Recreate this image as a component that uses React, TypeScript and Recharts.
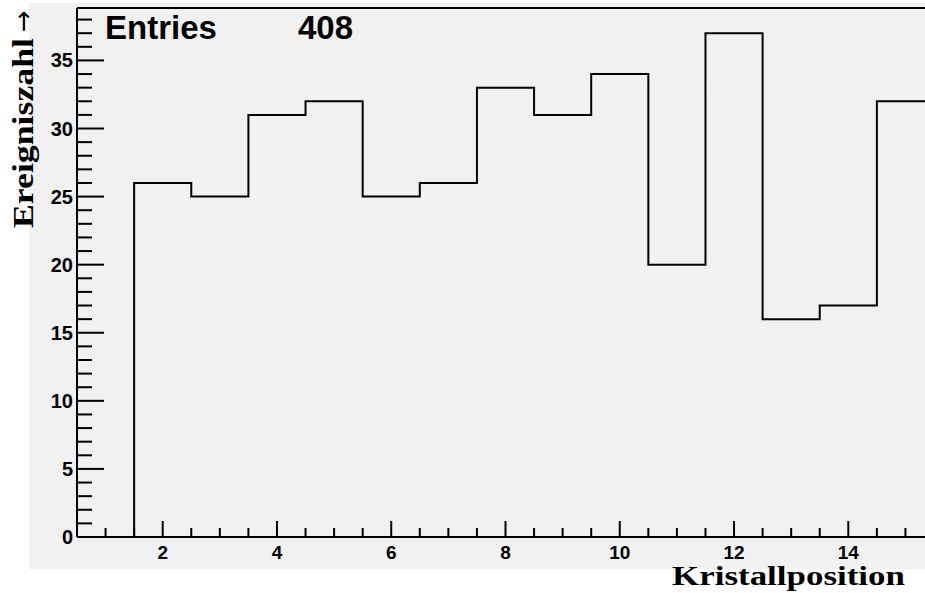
import React from 'react';
import { ComposedChart, Line, XAxis, YAxis, ReferenceLine } from 'recharts';

// bin centres of the crystal histogram and their counts
const binCenters = [1, 2, 3, 4, 5, 6, 7, 8, 9, 10, 11, 12, 13, 14, 15];
const counts = [0, 26, 25, 31, 32, 25, 26, 33, 31, 34, 20, 37, 16, 17, 32];
const entries = 408;

const xMajorTicks = [2, 4, 6, 8, 10, 12, 14];
const xTicks = [1, 1.5, 2, 2.5, 3, 3.5, 4, 4.5, 5, 5.5, 6, 6.5, 7, 7.5, 8, 8.5, 9, 9.5, 10, 10.5, 11, 11.5, 12, 12.5, 13, 13.5, 14, 14.5, 15, 15.5];
const yMajorTicks = [0, 5, 10, 15, 20, 25, 30, 35];
const yTicks = Array.from({ length: 39 }, (_, i) => i);

const binWidth = 1;
const xMin = binCenters[0] - binWidth / 2;
const xMax = binCenters[binCenters.length - 1] + binWidth / 2;
const yMax = Math.max(...counts) * 1.05;

// step outline: one point per lower bin edge, plus the closing edge
const stepData = [
  ...binCenters.map((c, i) => ({ x: c - binWidth / 2, y: counts[i] })),
  { x: xMax, y: counts[counts.length - 1] },
];

const tickFont = '"Liberation Sans", Arial, sans-serif';
const titleFont = '"Liberation Serif", "DejaVu Serif", serif';

const XTick = (props: any) => {
  const { x, y, payload } = props;
  const major = xMajorTicks.includes(payload.value);
  return (
    <g>
      <line x1={x} x2={x} y1={y} y2={y - (major ? 16 : 9)} stroke="#000" strokeWidth={2} />
      {major && (
        <text x={x} y={y + 22} textAnchor="middle" fontFamily={tickFont} fontWeight="bold" fontSize={19} fill="#000">
          {payload.value}
        </text>
      )}
    </g>
  );
};

const YTick = (props: any) => {
  const { x, y, payload } = props;
  const major = yMajorTicks.includes(payload.value);
  return (
    <g>
      <line x1={x} x2={x + (major ? 27 : 15)} y1={y} y2={y} stroke="#000" strokeWidth={2} />
      {major && (
        <text x={x - 4} y={y + 7} textAnchor="end" fontFamily={tickFont} fontWeight="bold" fontSize={20} fill="#000">
          {payload.value}
        </text>
      )}
    </g>
  );
};

export default function App() {
  return (
    <div style={{ position: 'absolute', left: 0, top: 0, width: 925, height: 593, overflow: 'hidden', background: '#fff' }}>
      <div style={{ position: 'absolute', left: 29, top: 3, width: 896, height: 566, background: '#f1f1f1' }} />
      <div style={{ position: 'absolute', left: 0, top: 0 }}>
        <ComposedChart width={950} height={593} data={stepData} margin={{ top: 8, right: 16, bottom: 0, left: 0 }}>
          <XAxis
            dataKey="x"
            type="number"
            domain={[xMin, xMax]}
            ticks={xTicks}
            interval={0}
            height={56}
            tickSize={0}
            tickMargin={0}
            tickLine={false}
            axisLine={{ stroke: '#000', strokeWidth: 2 }}
            tick={<XTick />}
            allowDataOverflow
          />
          <YAxis
            type="number"
            domain={[0, yMax]}
            ticks={yTicks}
            interval={0}
            width={77}
            tickSize={0}
            tickMargin={0}
            tickLine={false}
            axisLine={{ stroke: '#000', strokeWidth: 2 }}
            tick={<YTick />}
            allowDataOverflow
          />
          <ReferenceLine y={yMax} stroke="#000" strokeWidth={2} />
          <Line
            dataKey="y"
            type="stepAfter"
            stroke="#000"
            strokeWidth={2}
            dot={false}
            activeDot={false}
            isAnimationActive={false}
          />
        </ComposedChart>
      </div>
      <svg width={925} height={593} style={{ position: 'absolute', left: 0, top: 0, pointerEvents: 'none' }}>
        <text x={105} y={39} fontFamily={tickFont} fontWeight="bold" fontSize={33} fill="#000">Entries</text>
        <text x={298} y={39} fontFamily={tickFont} fontWeight="bold" fontSize={33} fill="#000">{entries}</text>
        <text
          x={672}
          y={585}
          fontFamily={titleFont}
          fontWeight="bold"
          fontSize={27}
          textLength={233}
          lengthAdjust="spacingAndGlyphs"
          fill="#000"
        >
          Kristallposition
        </text>
        <text
          transform="translate(33, 228) rotate(-90)"
          fontFamily={titleFont}
          fontWeight="bold"
          fontSize={29}
          fill="#000"
        >
          <tspan textLength={190} lengthAdjust="spacingAndGlyphs">Ereigniszahl</tspan>
          <tspan dx={6} dy={-1} fontFamily='"DejaVu Sans", sans-serif' fontWeight="normal" fontSize={26}>→</tspan>
        </text>
      </svg>
    </div>
  );
}
